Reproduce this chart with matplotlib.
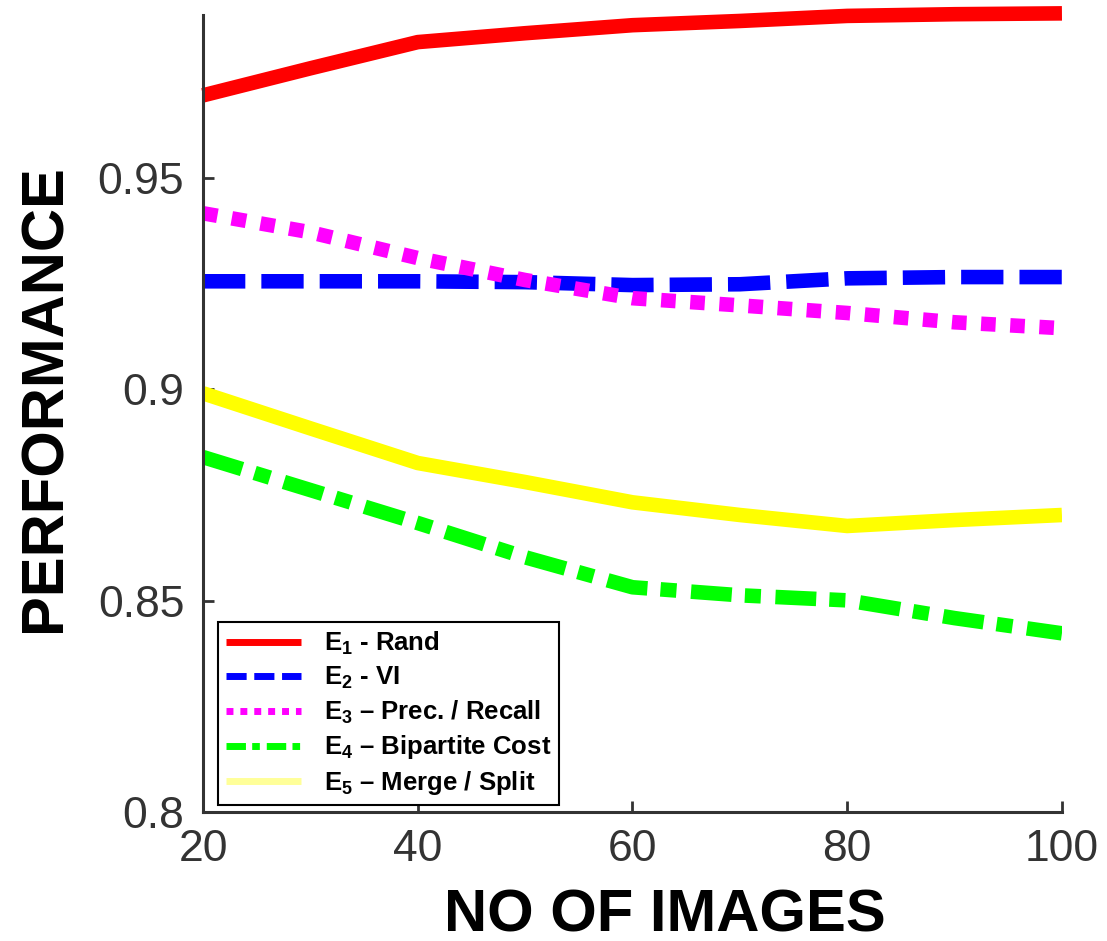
### Segmentation evaluation measures vs number of images
import matplotlib
matplotlib.use("Agg")
import matplotlib.pyplot as plt

# Data
n_images = [20, 30, 40, 50, 60, 70, 80, 90, 100]
e1_rand = [0.9696, 0.9760, 0.9822, 0.9843, 0.9862, 0.9872, 0.9884, 0.9888, 0.9890]
e2_vi = [0.9256, 0.9256, 0.9256, 0.9254, 0.9247, 0.9249, 0.9263, 0.9266, 0.9266]
e3_prec_recall = [0.9417, 0.9372, 0.9311, 0.9259, 0.9216, 0.9199, 0.9181, 0.9159, 0.9145]
e4_bipartite = [0.8840, 0.8762, 0.8684, 0.8603, 0.8532, 0.8513, 0.8501, 0.8459, 0.8423]
e5_merge_split = [0.8991, 0.8908, 0.8826, 0.8781, 0.8733, 0.8703, 0.8677, 0.8691, 0.8703]

labels = [r"$\mathrm{E_1}$ - Rand",
          r"$\mathrm{E_2}$ - VI",
          r"$\mathrm{E_3}$ – Prec. / Recall",
          r"$\mathrm{E_4}$ – Bipartite Cost",
          r"$\mathrm{E_5}$ – Merge / Split"]

x_ticks = [20, 40, 60, 80, 100]
y_ticks = [0.8, 0.85, 0.9, 0.95]
y_tick_labels = ["0.8", "0.85", "0.9", "0.95"]

plt.rcParams['font.family'] = ['Liberation Sans', 'DejaVu Sans']
plt.rcParams['mathtext.fontset'] = 'custom'
plt.rcParams['mathtext.rm'] = 'Liberation Sans:bold'

# Create figure and axes
fig = plt.figure(figsize=(11.07, 9.41), dpi=100)
ax = fig.add_axes([0.1834, 0.137, 0.7759, 0.847])

lw = 10.5
ax.plot(n_images, e1_rand, color='#ff0000', lw=lw, solid_capstyle='butt', clip_on=False, label=labels[0])
ax.plot(n_images, e2_vi, color='#0000ff', lw=lw, dashes=(2.9, 1.1), dash_capstyle='butt', label=labels[1])
ax.plot(n_images, e3_prec_recall, color='#ff00ff', lw=lw, dashes=(1.0, 1.0), dash_capstyle='butt', label=labels[2])
ax.plot(n_images, e4_bipartite, color='#00ff00', lw=lw, dashes=(2.8, 0.9, 1.1, 1.0), dash_capstyle='butt', label=labels[3])
ax.plot(n_images, e5_merge_split, color='#ffff00', lw=lw, solid_capstyle='butt', label=labels[4])

ax.set_xlim(20, 100)
ax.set_ylim(0.8, 0.9886)
ax.set_xticks(x_ticks)
ax.set_xticklabels([str(t) for t in x_ticks])
ax.set_yticks(y_ticks)
ax.set_yticklabels(y_tick_labels)

# Only left and bottom spines
for side in ['top', 'right']:
    ax.spines[side].set_visible(False)
for side in ['left', 'bottom']:
    ax.spines[side].set_color('#333333')
    ax.spines[side].set_linewidth(2.2)
ax.tick_params(direction='in', length=8, width=2, color='#333333',
               labelsize=32, labelcolor='#333333')
ax.tick_params(axis='x', pad=12.5)
ax.tick_params(axis='y', pad=13.5)

ax.set_xlabel("NO OF IMAGES", fontsize=43, fontweight='bold')
ax.set_ylabel("PERFORMANCE", fontsize=43, fontweight='bold')
ax.xaxis.set_label_coords(0.538, -0.130)
ax.yaxis.set_label_coords(-0.184, 0.519)
ax.xaxis.label.set_verticalalignment('center')
ax.yaxis.label.set_verticalalignment('center')

# Legend in the lower left corner
leg = ax.legend(loc='lower left', bbox_to_anchor=(0.018, 0.009), borderaxespad=0,
                fancybox=False, edgecolor='black', framealpha=1,
                handlelength=2.9, handletextpad=0.9, labelspacing=0.3, borderpad=0.3,
                prop={'weight': 'bold', 'size': 18.5})
leg.get_frame().set_linewidth(1.5)
for line in leg.get_lines():
    line.set_linewidth(5)
leg.get_lines()[4].set_color('#ffff99')

fig.savefig("out.png", dpi=100)
plt.close(fig)
